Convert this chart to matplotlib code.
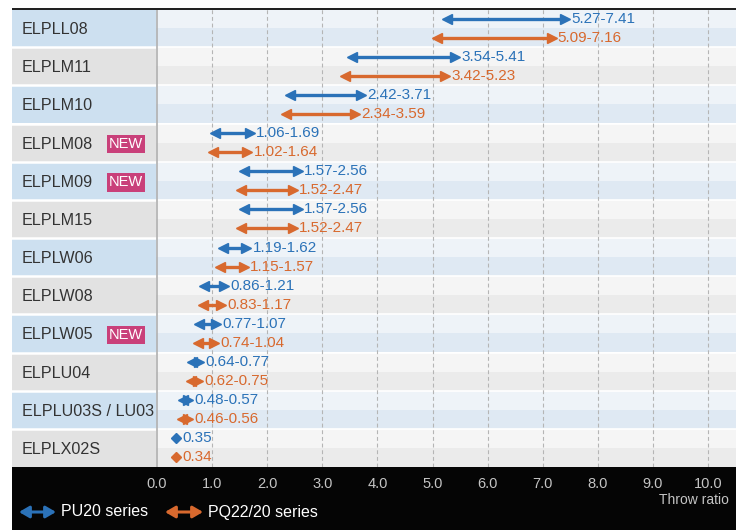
#!/usr/bin/env python3
"""Throw ratio chart for the ELPL lens line-up."""

import matplotlib
matplotlib.use("Agg")
import matplotlib.pyplot as plt
from matplotlib.patches import FancyArrowPatch, Rectangle

LENSES = [
    "ELPLL08", "ELPLM11", "ELPLM10", "ELPLM08", "ELPLM09", "ELPLM15",
    "ELPLW06", "ELPLW08", "ELPLW05", "ELPLU04", "ELPLU03S / LU03", "ELPLX02S",
]
IS_NEW = [False, False, False, True, True, False, False, False, True, False, False, False]
PU20_LOW = [5.27, 3.54, 2.42, 1.06, 1.57, 1.57, 1.19, 0.86, 0.77, 0.64, 0.48, 0.35]
PU20_HIGH = [7.41, 5.41, 3.71, 1.69, 2.56, 2.56, 1.62, 1.21, 1.07, 0.77, 0.57, 0.35]
PQ_LOW = [5.09, 3.42, 2.34, 1.02, 1.52, 1.52, 1.15, 0.83, 0.74, 0.62, 0.46, 0.34]
PQ_HIGH = [7.16, 5.23, 3.59, 1.64, 2.47, 2.47, 1.57, 1.17, 1.04, 0.75, 0.56, 0.34]
SERIES = ["PU20 series", "PQ22/20 series"]
TICKS = [0, 1, 2, 3, 4, 5, 6, 7, 8, 9, 10]

BLUE = "#2b72b8"
ORANGE = "#d8692e"
LABEL_BG = ["#cde0f0", "#e2e2e2"]
ROW_TOP = ["#eef3f8", "#f5f5f5"]
ROW_BOTTOM = ["#dfe9f3", "#ebebeb"]
TEXT = "#333333"
BADGE = "#c9407a"
TICK_TEXT = "#c4c4c4"
FONT = ["Liberation Sans", "DejaVu Sans"]

W, H = 742, 530
LEFT, SPLIT, RIGHT = 12, 156, 736
TOP, BOTTOM = 9, 467


def fx(px):
    return px / W


def fy(py):
    return 1 - py / H


def draw_range(ax, y, lo, hi, color, label):
    if lo == hi:
        ax.plot([lo], [y], marker="D", markersize=5.5, color=color, linestyle="none")
    else:
        ax.hlines(y, lo, hi, color=color, linewidth=2.4)
        ax.plot([lo], [y], marker="<", markersize=7.5, color=color, linestyle="none")
        ax.plot([hi], [y], marker=">", markersize=7.5, color=color, linestyle="none")
    ax.annotate(label, (hi, y), xytext=(4.5, 0), textcoords="offset points",
                ha="left", va="center", fontsize=11, color=color)


def fmt(lo, hi):
    if lo == hi:
        return f"{lo:.2f}"
    return f"{lo:.2f}-{hi:.2f}"


def main():
    plt.rcParams["font.family"] = FONT
    fig = plt.figure(figsize=(W / 100, H / 100), dpi=100)
    fig.patch.set_facecolor("white")

    # black footer and top rule
    fig.patches.append(Rectangle((fx(LEFT), 0), fx(RIGHT - LEFT), fy(BOTTOM),
                                 transform=fig.transFigure, facecolor="#050505",
                                 edgecolor="none", zorder=-5))
    fig.patches.append(Rectangle((fx(LEFT), fy(TOP) - 0.001), fx(RIGHT - LEFT), 0.003,
                                 transform=fig.transFigure, facecolor="#222222",
                                 edgecolor="none", zorder=5))

    box_h = (BOTTOM - TOP) / H
    ax_lab = fig.add_axes([fx(LEFT), fy(BOTTOM), fx(SPLIT - LEFT), box_h])
    ax = fig.add_axes([fx(SPLIT), fy(BOTTOM), fx(RIGHT - SPLIT), box_h])

    n = len(LENSES)
    for a in (ax_lab, ax):
        a.set_ylim(n, 0)
        a.set_yticks([])
        for side in ("top", "right", "bottom", "left"):
            a.spines[side].set_visible(False)

    ax_lab.set_xlim(0, SPLIT - LEFT)
    ax_lab.set_xticks([])
    for i, name in enumerate(LENSES):
        k = i % 2
        ax_lab.axhspan(i, i + 1, color=LABEL_BG[k], linewidth=0)
        ax_lab.text(10, i + 0.54, name, ha="left", va="center", fontsize=11.6, color=TEXT)
        if IS_NEW[i]:
            ax_lab.text(114, i + 0.54, "NEW", ha="center", va="center", fontsize=10.5,
                        color="white",
                        bbox=dict(boxstyle="square,pad=0.16", facecolor=BADGE,
                                  edgecolor="none"))
        if i > 0:
            ax_lab.axhline(i, color="white", linewidth=1.8)

    x0 = -1 / 55.1
    ax.set_xlim(x0, x0 + (RIGHT - SPLIT) / 55.1)
    for i in range(n):
        k = i % 2
        ax.axhspan(i, i + 0.5, color=ROW_TOP[k], linewidth=0, zorder=0)
        ax.axhspan(i + 0.5, i + 1, color=ROW_BOTTOM[k], linewidth=0, zorder=0)
        if i > 0:
            ax.axhline(i, color="white", linewidth=1.2, zorder=1)
    for t in TICKS[1:]:
        ax.axvline(t, color="#b5b5b5", linewidth=0.8, linestyle=(0, (3.5, 2.5)), zorder=1)
    ax.axvline(0, color="#b0b0b0", linewidth=1.2, zorder=2)

    for i in range(n):
        draw_range(ax, i + 0.25, PU20_LOW[i], PU20_HIGH[i], BLUE, fmt(PU20_LOW[i], PU20_HIGH[i]))
        draw_range(ax, i + 0.75, PQ_LOW[i], PQ_HIGH[i], ORANGE, fmt(PQ_LOW[i], PQ_HIGH[i]))

    ax.set_xticks(TICKS)
    ax.set_xticklabels([f"{t:.1f}" for t in TICKS])
    ax.tick_params(axis="x", length=0, pad=7, labelsize=10.5, labelcolor=TICK_TEXT)

    fig.text(fx(729), fy(500), "Throw ratio", ha="right", va="center",
             fontsize=10, color=TICK_TEXT)

    # legend in the footer
    for (x_start, x_end, color, label) in [(19, 56, BLUE, SERIES[0]),
                                           (165, 203, ORANGE, SERIES[1])]:
        fig.add_artist(FancyArrowPatch(
            (fx(x_start), fy(512)), (fx(x_end), fy(512)),
            transform=fig.transFigure, arrowstyle="<|-|>,head_length=6,head_width=3.5",
            color=color, linewidth=2.2, shrinkA=0, shrinkB=0))
        fig.text(fx(x_end + 5), fy(512), label, ha="left", va="center",
                 fontsize=11.5, color="white")

    fig.savefig("out.png", dpi=100, facecolor="white")
    plt.close(fig)


if __name__ == "__main__":
    main()
